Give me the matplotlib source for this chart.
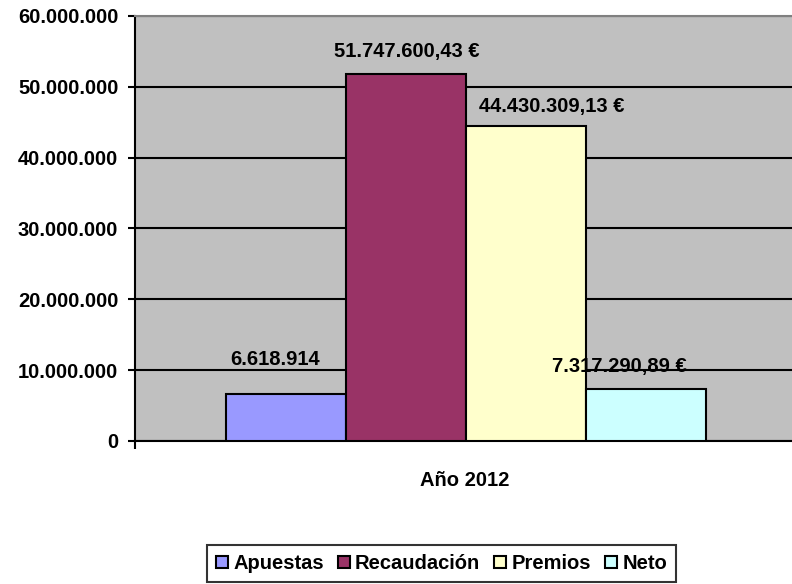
import matplotlib
matplotlib.use("Agg")
import matplotlib.pyplot as plt
from matplotlib.patches import Patch
from matplotlib.ticker import FuncFormatter

plt.rcParams['font.family'] = ['Liberation Sans', 'DejaVu Sans']

series = ["Apuestas", "Recaudación", "Premios", "Neto"]
values = [6618914, 51747600.43, 44430309.13, 7317290.89]
value_labels = ["6.618.914", "51.747.600,43 €", "44.430.309,13 €", "7.317.290,89 €"]
colors = ["#9999FF", "#993366", "#FFFFCC", "#CCFFFF"]
category = "Año 2012"
yticks = [0, 10000000, 20000000, 30000000, 40000000, 50000000, 60000000]

FS = 14.5
W, H = 792, 584
fig = plt.figure(figsize=(W / 100, H / 100), dpi=100)
ax = fig.add_axes([135 / W, 1 - 441 / H, (792 - 135) / W, (441 - 16) / H])
ax.set_facecolor("#C0C0C0")

bw = 120 / 328.5
offsets = [-1.5, -0.5, 0.5, 1.5]
label_dx = [-11, 1, 26, -27]   # pixel shifts of value labels
label_dy = [37, 25, 22, 25]    # pixel distance of label centre above bar top
for i, (s, v, c) in enumerate(zip(series, values, colors)):
    x = 0.0076 + offsets[i] * bw
    ax.bar(x, v, width=bw, color=c, edgecolor="black", linewidth=1.5, zorder=3)
    ax.annotate(value_labels[i], (x, v), xytext=(label_dx[i] * 0.72, label_dy[i] * 0.72),
                textcoords="offset points", ha="center", va="center_baseline",
                fontsize=FS, fontweight="bold", zorder=4)

ax.set_xlim(-1, 1)
ax.set_ylim(0, 60000000)
ax.set_yticks(yticks)
ax.yaxis.set_major_formatter(FuncFormatter(lambda v, p: f"{int(v):,}".replace(",", ".")))
ax.grid(axis="y", color="black", linewidth=1.5, zorder=1)
ax.set_axisbelow(True)
ax.set_xticks([-1])
ax.set_xticklabels([""])
ax.tick_params(axis="x", direction="out", length=6, width=1.5, color="black")
ax.tick_params(axis="y", direction="out", length=5, width=1.5, color="black", pad=7)
for lab in ax.get_yticklabels():
    lab.set_fontweight("bold")
    lab.set_fontsize(FS)
ax.set_xlabel(category, fontsize=FS, fontweight="bold", va="center")
ax.xaxis.set_label_coords((465 - 135) / 657, (441 - 480) / 425)

ax.spines["left"].set_color("black")
ax.spines["left"].set_linewidth(1.5)
ax.spines["bottom"].set_color("black")
ax.spines["bottom"].set_linewidth(1.5)
ax.spines["top"].set_color("#808080")
ax.spines["top"].set_linewidth(1.5)
ax.spines["right"].set_visible(False)

handles = [Patch(facecolor=c, edgecolor="black", linewidth=1.5, label=s) for s, c in zip(series, colors)]
leg = fig.legend(handles=handles, loc="upper center", bbox_to_anchor=(441.5 / W, 1 - 545 / H),
                 ncol=4, frameon=True, fancybox=False, edgecolor="black",
                 prop={"weight": "bold", "size": FS}, handlelength=0.6, handleheight=0.6,
                 handletextpad=0.25, columnspacing=0.7, borderpad=0.45, borderaxespad=0)
leg.get_frame().set_linewidth(1.5)

fig.savefig("out.png", dpi=100)
